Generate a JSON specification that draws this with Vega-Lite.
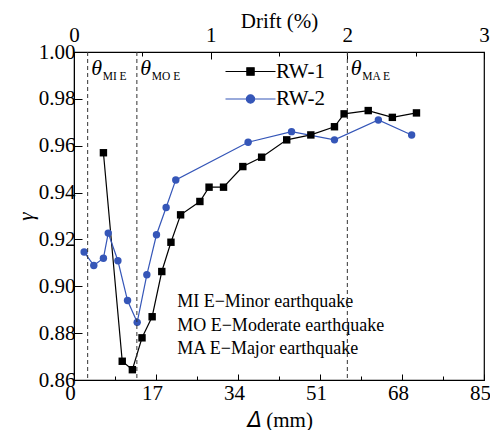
{
  "$schema": "https://vega.github.io/schema/vega-lite/v6.json",
  "width": 410,
  "height": 328,
  "autosize": "none",
  "padding": {"left": 74, "top": 52, "right": 6, "bottom": 50},
  "background": "white",
  "config": {
    "view": {"stroke": "black", "strokeWidth": 1.2},
    "font": "Liberation Serif, Times New Roman, serif",
    "axis": {
      "labelFont": "Liberation Serif, Times New Roman, serif",
      "titleFont": "Liberation Serif, Times New Roman, serif",
      "labelFontSize": 21,
      "titleFontSize": 21,
      "labelColor": "black",
      "titleColor": "black",
      "titleFontWeight": "normal",
      "domainColor": "black",
      "tickColor": "black",
      "grid": false,
      "labelFlush": false
    }
  },
  "datasets": {
    "curves": [
      {"series": "RW-1", "delta": 6.1, "gamma": 0.957},
      {"series": "RW-1", "delta": 10.0, "gamma": 0.868},
      {"series": "RW-1", "delta": 12.1, "gamma": 0.8644},
      {"series": "RW-1", "delta": 14.1, "gamma": 0.878},
      {"series": "RW-1", "delta": 16.2, "gamma": 0.887},
      {"series": "RW-1", "delta": 18.2, "gamma": 0.9063},
      {"series": "RW-1", "delta": 20.1, "gamma": 0.9188},
      {"series": "RW-1", "delta": 22.1, "gamma": 0.9305},
      {"series": "RW-1", "delta": 26.1, "gamma": 0.9362},
      {"series": "RW-1", "delta": 28.0, "gamma": 0.9423},
      {"series": "RW-1", "delta": 31.0, "gamma": 0.9423},
      {"series": "RW-1", "delta": 35.0, "gamma": 0.9511},
      {"series": "RW-1", "delta": 38.9, "gamma": 0.9551},
      {"series": "RW-1", "delta": 44.1, "gamma": 0.9625},
      {"series": "RW-1", "delta": 49.1, "gamma": 0.9646},
      {"series": "RW-1", "delta": 54.0, "gamma": 0.9681},
      {"series": "RW-1", "delta": 56.0, "gamma": 0.9736},
      {"series": "RW-1", "delta": 61.0, "gamma": 0.975},
      {"series": "RW-1", "delta": 66.0, "gamma": 0.9721},
      {"series": "RW-1", "delta": 71.0, "gamma": 0.974},
      {"series": "RW-2", "delta": 2.1, "gamma": 0.9146},
      {"series": "RW-2", "delta": 4.1, "gamma": 0.9089},
      {"series": "RW-2", "delta": 6.1, "gamma": 0.912},
      {"series": "RW-2", "delta": 7.1, "gamma": 0.9227},
      {"series": "RW-2", "delta": 9.1, "gamma": 0.9109},
      {"series": "RW-2", "delta": 11.1, "gamma": 0.8939},
      {"series": "RW-2", "delta": 13.1, "gamma": 0.8846},
      {"series": "RW-2", "delta": 15.1, "gamma": 0.9049},
      {"series": "RW-2", "delta": 17.1, "gamma": 0.922},
      {"series": "RW-2", "delta": 19.1, "gamma": 0.9336},
      {"series": "RW-2", "delta": 21.1, "gamma": 0.9454},
      {"series": "RW-2", "delta": 36.1, "gamma": 0.9615},
      {"series": "RW-2", "delta": 45.1, "gamma": 0.966},
      {"series": "RW-2", "delta": 54.0, "gamma": 0.9625},
      {"series": "RW-2", "delta": 63.1, "gamma": 0.971},
      {"series": "RW-2", "delta": 70.0, "gamma": 0.9646}
    ],
    "limits": [
      {"limit": "MI E", "drift": 0.1},
      {"limit": "MO E", "drift": 0.46},
      {"limit": "MA E", "drift": 2.0}
    ],
    "notes": [
      {"note": ["MI E−Minor earthquake", "MO E−Moderate earthquake", "MA E−Major earthquake"]}
    ]
  },
  "layer": [
    {
      "layer": [
        {
          "data": {"name": "curves"},
          "mark": {"type": "line", "strokeWidth": 1.2},
          "encoding": {
            "x": {
              "field": "delta",
              "type": "quantitative",
              "scale": {"domain": [0, 85], "nice": false, "zero": false},
              "axis": {
                "orient": "bottom",
                "title": "𝛥 (mm)",
                "values": [0, 8.5, 17, 25.5, 34, 42.5, 51, 59.5, 68, 76.5, 85],
                "labelExpr": "datum.value % 17 === 0 ? format(datum.value, 'd') : ''",
                "tickSize": {"condition": {"test": "datum.value % 17 === 0", "value": -6}, "value": -4},
                "labelPadding": 8,
                "labelOffset": -4,
                "titlePadding": 6
              }
            },
            "y": {
              "field": "gamma",
              "type": "quantitative",
              "scale": {"domain": [0.86, 1.0], "nice": false, "zero": false},
              "axis": {
                "title": "γ",
                "titleFontStyle": "italic",
                "values": [0.86, 0.87, 0.88, 0.89, 0.9, 0.91, 0.92, 0.93, 0.94, 0.95, 0.96, 0.97, 0.98, 0.99, 1.0],
                "labelExpr": "round(datum.value * 100) % 2 === 0 ? format(datum.value, '.2f') : ''",
                "tickSize": {"condition": {"test": "round(datum.value * 100) % 2 === 0", "value": -8}, "value": -4},
                "labelPadding": 7,
                "titlePadding": 2
              }
            },
            "color": {
              "field": "series",
              "type": "nominal",
              "scale": {"domain": ["RW-1", "RW-2"], "range": ["#000000", "#3556B8"]},
              "legend": {
                "orient": "none",
                "legendX": 166,
                "legendY": 9,
                "title": null,
                "padding": 0,
                "symbolSize": 100,
                "labelFont": "Liberation Serif, Times New Roman, serif",
                "labelFontSize": 21,
                "labelColor": "black",
                "labelOffset": 15,
                "rowPadding": 5.5,
                "encoding": {
                  "symbols": {
                    "shape": {"value": {"expr": "datum.value === 'RW-1' ? 'M-5,0H5M-0.73,-0.73H0.73V0.73H-0.73Z' : 'M-5,0H5M0.83,0A0.83,0.83,0,1,1,-0.83,0A0.83,0.83,0,1,1,0.83,0Z'"}},
                    "strokeWidth": {"value": 1.2},
                    "opacity": {"value": 1}
                  }
                }
              }
            }
          }
        },
        {
          "data": {"name": "curves"},
          "mark": {"type": "point", "filled": true, "size": 55, "opacity": 1},
          "encoding": {
            "x": {"field": "delta", "type": "quantitative"},
            "y": {"field": "gamma", "type": "quantitative"},
            "color": {"field": "series", "type": "nominal"},
            "shape": {
              "condition": {"test": "datum.series === 'RW-1'", "value": "square"},
              "value": "circle"
            }
          }
        },
        {
          "data": {"name": "notes"},
          "mark": {
            "type": "text",
            "align": "left",
            "baseline": "alphabetic",
            "lineHeight": 23.4,
            "font": "Liberation Serif, Times New Roman, serif",
            "fontSize": 18,
            "color": "black"
          },
          "encoding": {
            "text": {"field": "note", "type": "nominal"},
            "x": {"datum": 21.4, "type": "quantitative"},
            "y": {"datum": 0.891, "type": "quantitative"}
          }
        }
      ]
    },
    {
      "data": {"name": "limits"},
      "encoding": {
        "x": {
          "field": "drift",
          "type": "quantitative",
          "scale": {"domain": [0, 3], "nice": false, "zero": false},
          "axis": {
            "orient": "top",
            "title": "Drift (%)",
            "values": [0, 0.5, 1, 1.5, 2, 2.5, 3],
            "labelExpr": "datum.value % 1 === 0 ? format(datum.value, 'd') : ''",
            "tickSize": {"condition": {"test": "datum.value % 1 === 0", "value": -7}, "value": -4},
            "labelPadding": 14,
            "titlePadding": -7
          }
        }
      },
      "layer": [
        {
          "mark": {"type": "rule", "strokeDash": [4, 3], "color": "#333333", "strokeWidth": 1}
        },
        {
          "mark": {"type": "text", "text": "θ", "align": "left", "baseline": "alphabetic", "dx": 3.5, "font": "Liberation Serif, Times New Roman, serif", "fontStyle": "italic", "fontSize": 22, "color": "black"},
          "encoding": {"y": {"datum": 0.99}}
        },
        {
          "mark": {"type": "text", "align": "left", "baseline": "alphabetic", "dx": 15, "font": "Liberation Serif, Times New Roman, serif", "fontSize": 11.5, "color": "black"},
          "encoding": {"text": {"field": "limit"}, "y": {"datum": 0.988}}
        }
      ]
    }
  ],
  "resolve": {"scale": {"x": "independent"}}
}
